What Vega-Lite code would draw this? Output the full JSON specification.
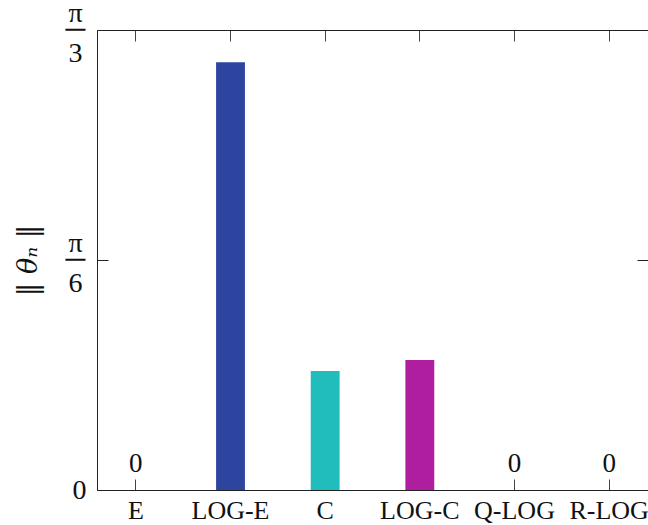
{
  "$schema": "https://vega.github.io/schema/vega-lite/v6.json",
  "width": 551,
  "height": 460,
  "autosize": {"type": "none"},
  "padding": {"left": 97, "top": 30, "right": 0, "bottom": 35},
  "background": "white",
  "config": {"view": {"stroke": null}, "font": "Liberation Serif"},
  "data": {
    "values": [
      {"method": "E", "value": 0},
      {"method": "LOG-E", "value": 0.974},
      {"method": "C", "value": 0.271},
      {"method": "LOG-C", "value": 0.296},
      {"method": "Q-LOG", "value": 0},
      {"method": "R-LOG", "value": 0}
    ]
  },
  "layer": [
    {
      "mark": {"type": "bar"},
      "encoding": {
        "x": {
          "field": "method",
          "type": "nominal",
          "sort": null,
          "scale": {"paddingInner": 0.695, "paddingOuter": 0.258},
          "axis": {
            "orient": "bottom",
            "title": null,
            "labelAngle": 0,
            "labelFontSize": 26,
            "labelColor": "#111111",
            "labelFont": "Liberation Serif",
            "tickSize": -11,
            "labelPadding": 18,
            "domainColor": "#222222",
            "tickColor": "#444444",
            "grid": false
          }
        },
        "y": {
          "field": "value",
          "type": "quantitative",
          "scale": {"domain": [0, 1.0471975512], "nice": false, "zero": true},
          "axis": {
            "orient": "left",
            "values": [0, 0.5235987756, 1.0471975512],
            "labelExpr": "datum.value < 0.1 ? '0' : (datum.value < 0.6 ? ['π', '\u200b', '─', '\u200b', '\u200b', '6'] : ['π', '\u200b', '─', '\u200b', '\u200b', '3'])",
            "labelAlign": "center",
            "labelBaseline": "middle",
            "labelFontSize": 28,
            "labelLineHeight": 8,
            "labelFont": "Liberation Serif",
            "labelColor": "#111111",
            "labelFlush": false,
            "labelOverlap": false,
            "labelOffset": {"condition": {"test": "datum.value < 0.1", "value": 0}, "value": -17},
            "labelPadding": {"condition": {"test": "datum.value < 0.1", "value": 29}, "value": 33},
            "tickSize": -11,
            "tickColor": "#222222",
            "domainColor": "#222222",
            "grid": false,
            "title": "‖ θₙ ‖",
            "titleFont": "DejaVu Serif",
            "titleFontSize": 27,
            "titleFontStyle": "italic",
            "titleFontWeight": "normal",
            "titleColor": "#111111",
            "titlePadding": 23
          }
        },
        "color": {
          "field": "method",
          "type": "nominal",
          "scale": {
            "domain": ["E", "LOG-E", "C", "LOG-C", "Q-LOG", "R-LOG"],
            "range": ["#E07020", "#2E45A0", "#20BDBC", "#AE1E9E", "#D62728", "#2CA02C"]
          },
          "legend": null
        }
      }
    },
    {
      "mark": {"type": "text", "baseline": "alphabetic", "dy": -18, "fontSize": 27, "font": "Liberation Serif", "color": "#111111"},
      "transform": [{"filter": "datum.value == 0"}],
      "encoding": {
        "x": {
          "field": "method",
          "type": "nominal",
          "sort": null,
          "axis": {
            "orient": "top",
            "title": null,
            "labels": false,
            "tickSize": -11,
            "domainColor": "#222222",
            "tickColor": "#444444",
            "grid": false
          }
        },
        "y": {
          "field": "value",
          "type": "quantitative",
          "axis": {
            "orient": "right",
            "values": [0, 0.5235987756, 1.0471975512],
            "labels": false,
            "title": null,
            "domain": false,
            "tickSize": -11,
            "tickColor": "#222222",
            "grid": false
          }
        },
        "text": {"field": "value", "type": "quantitative"}
      }
    }
  ],
  "resolve": {"axis": {"x": "independent", "y": "independent"}}
}
